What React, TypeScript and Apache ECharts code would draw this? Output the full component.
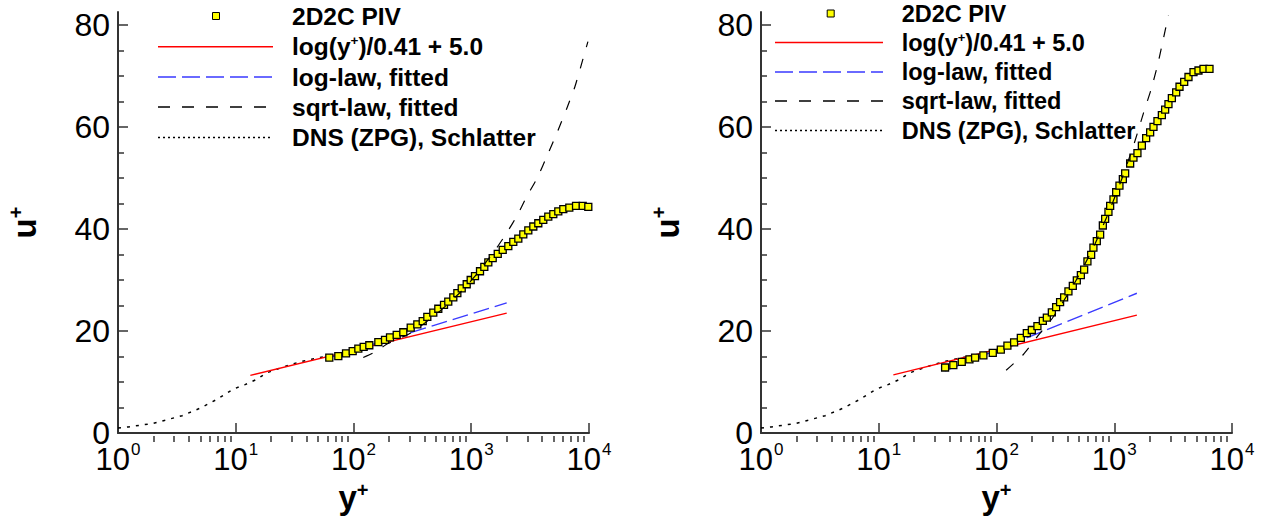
import React, { useEffect, useRef } from 'react';
import * as echarts from 'echarts';

// ---------- data ----------
const xMajorTicks = [1, 10, 100, 1000, 10000];
const xMinorTicks = [2, 3, 4, 5, 6, 7, 8, 9, 20, 30, 40, 50, 60, 70, 80, 90, 200, 300, 400, 500, 600, 700, 800, 900, 2000, 3000, 4000, 5000, 6000, 7000, 8000, 9000];
const yMajorTicks = [0, 20, 40, 60, 80];
const yMinorTicks = [5, 10, 15, 25, 30, 35, 45, 50, 55, 65, 70, 75];

// DNS (ZPG), Schlatter
const dnsYPlus = [1.0, 1.22, 1.98, 3.5, 5.0, 6.9, 9.5, 12, 15, 18.3, 22.3, 28, 35, 44, 60];
const dnsUPlus = [1.0, 1.2, 1.9, 3.4, 4.9, 6.6, 8.6, 9.5, 10.5, 11.8, 12.5, 13.3, 13.95, 14.45, 15.1];

// left panel
const pivLeftYPlus = [62.3, 74.3, 86.4, 98.4, 109.9, 122, 136.2, 162.5, 185.2, 204.2, 232.8, 264.9, 306.1, 348.3, 387, 423.5, 476, 525, 587, 638, 704, 762, 830, 915, 989, 1076, 1187, 1291, 1396, 1521, 1679, 1850, 2064, 2275, 2510, 2767, 3052, 3366, 3710, 4090, 4510, 4975, 5485, 6050, 6805, 7760, 8840, 9865];
const pivLeftUPlus = [14.77, 15.1, 15.6, 16.06, 16.56, 16.9, 17.21, 17.84, 18.28, 18.74, 19.24, 19.76, 20.66, 21.3, 21.93, 22.77, 23.6, 24.36, 25.13, 25.77, 26.61, 27.43, 28.34, 29.16, 29.99, 30.75, 31.71, 32.56, 33.44, 34.28, 35.11, 35.88, 36.64, 37.47, 38.12, 38.94, 39.71, 40.48, 41.11, 41.77, 42.4, 42.92, 43.42, 43.87, 44.18, 44.51, 44.51, 44.32];
const logLawLeftYPlus = [13.3, 2000];
const logLawLeftUPlus = [11.3, 23.5];
const logFitLeftYPlus = [59, 2000];
const logFitLeftUPlus = [14.6, 25.5];
const sqrtFitLeftYPlus = [121, 147, 198, 300, 500, 800, 1100, 1655, 2010, 2450, 2970, 3620, 4480, 5450, 6500, 7600, 8890, 9790];
const sqrtFitLeftUPlus = [14.8, 15.7, 17.6, 19.5, 23.2, 27.5, 31.0, 36.4, 39.3, 42.6, 46.4, 49.9, 54.7, 59.3, 63.7, 67.9, 73.3, 76.7];

// right panel
const pivRightYPlus = [36.6, 43.0, 50.7, 58.9, 65.8, 77.4, 93.0, 108.8, 123.8, 141.1, 160.9, 180.9, 199.5, 222.6, 247.4, 267.6, 295.1, 320.9, 346.8, 375.3, 408.3, 444.8, 481, 520.5, 555, 592, 636.5, 665.5, 711, 759, 800, 837, 893, 923, 985, 1038, 1107, 1183, 1238, 1365, 1456, 1574, 1716, 1866, 2018, 2154, 2328, 2537, 2706, 2887, 3085, 3357, 3583, 3926, 4270, 4710, 5192, 5727, 6440];
const pivRightUPlus = [12.85, 13.3, 13.95, 14.45, 14.77, 15.21, 15.73, 16.36, 17.13, 17.78, 18.67, 19.57, 20.2, 20.97, 22.0, 22.64, 23.65, 24.69, 25.65, 26.61, 27.76, 28.83, 29.93, 30.94, 32.04, 33.63, 34.92, 36.32, 37.6, 38.89, 40.67, 41.96, 43.36, 44.51, 45.79, 47.19, 48.48, 49.75, 50.9, 52.82, 53.97, 54.87, 56.34, 57.8, 58.9, 59.99, 61.14, 62.29, 63.37, 64.46, 65.61, 66.76, 67.86, 68.82, 69.77, 70.73, 71.04, 71.37, 71.37];
const logLawRightYPlus = [13.3, 1556];
const logLawRightUPlus = [11.4, 23.1];
const logFitRightYPlus = [36.6, 1556];
const logFitRightUPlus = [12.2, 27.4];
const sqrtFitRightYPlus = [120.7, 169, 227, 300, 450, 650, 900, 1150, 1456, 1771, 2047, 2328, 2588, 2887];
const sqrtFitRightUPlus = [12.3, 15.4, 19.2, 22.6, 29.0, 35.9, 43.3, 49.6, 56.3, 62.7, 67.2, 72.0, 76.8, 81.9];

const legendNames = ['2D2C PIV', 'log(y+)/0.41 + 5.0', 'log-law, fitted', 'sqrt-law, fitted', 'DNS (ZPG), Schlatter'];

// ---------- styling ----------
const FONT = "'Liberation Sans', Arial, Helvetica, sans-serif";
const AX = '#333';
const RED = '#ff0000';
const BLUE = '#3a3aff';
const BLACK = '#000';
const YELLOW = '#ffff00';

const pairs = (x: number[], y: number[]) => x.map((v, i) => [v, y[i]]);

const panels = [
  {
    grid: { left: 118, right: 682, top: 12, bottom: 77 },
    width: 471,
    height: 430,
    piv: pairs(pivLeftYPlus, pivLeftUPlus),
    law: pairs(logLawLeftYPlus, logLawLeftUPlus),
    fit: pairs(logFitLeftYPlus, logFitLeftUPlus),
    sqrt: pairs(sqrtFitLeftYPlus, sqrtFitLeftUPlus),
    legend: { markerX: 216, x1: 158, x2: 273, textX: 292, rows: [16, 46.7, 77, 107, 137.5], fontSize: 24.5 },
  },
  {
    grid: { left: 761, right: 39, top: 12, bottom: 77 },
    width: 471,
    height: 430,
    piv: pairs(pivRightYPlus, pivRightUPlus),
    law: pairs(logLawRightYPlus, logLawRightUPlus),
    fit: pairs(logFitRightYPlus, logFitRightUPlus),
    sqrt: pairs(sqrtFitRightYPlus, sqrtFitRightUPlus),
    legend: { markerX: 830.7, x1: 775, x2: 883, textX: 901.7, rows: [13.5, 42.5, 72, 101, 130.5], fontSize: 23.5 },
  },
];

export default function App() {
  const ref = useRef<HTMLDivElement>(null);
  useEffect(() => {
    const chart = echarts.init(ref.current!, null, { renderer: 'svg' });

    const xAxis: any[] = [];
    const yAxis: any[] = [];
    const series: any[] = [];
    const graphic: any[] = [];

    panels.forEach((p, g) => {
      // major x axis
      xAxis.push({
        type: 'log', logBase: 10, min: 1, max: 10000, gridIndex: g, position: 'bottom',
        axisLine: { show: true, onZero: false, lineStyle: { color: AX, width: 2 } },
        axisTick: { show: true, inside: true, length: 10, customValues: xMajorTicks, lineStyle: { color: AX, width: 1.5 } },
        splitLine: { show: false },
        axisLabel: {
          customValues: xMajorTicks,
          margin: 8,
          formatter: (v: number) => `{b|10}{s|${Math.round(Math.log10(v))}}`,
          rich: {
            b: { fontSize: 31, fontFamily: FONT, color: '#000', lineHeight: 36 },
            s: { fontSize: 17, fontFamily: FONT, color: '#000', lineHeight: 17, verticalAlign: 'top', padding: [0, 0, 0, 1] },
          },
        },
        name: '{b|y}{s|+}',
        nameLocation: 'middle',
        nameGap: 32,
        nameTextStyle: {
          rich: {
            b: { fontSize: 33, fontWeight: 'bold', fontFamily: FONT, color: '#000', lineHeight: 36 },
            s: { fontSize: 20, fontWeight: 'bold', fontFamily: FONT, color: '#000', lineHeight: 20, verticalAlign: 'top' },
          },
        },
      });
      // minor x ticks (placed onto the bottom line)
      xAxis.push({
        type: 'log', logBase: 10, min: 1, max: 10000, gridIndex: g, position: 'top', offset: -p.height,
        axisLine: { show: false },
        axisTick: { show: true, inside: false, length: 6, customValues: xMinorTicks, lineStyle: { color: AX, width: 1.5 } },
        axisLabel: { show: false },
        splitLine: { show: false },
      });
      // major y axis
      yAxis.push({
        type: 'value', min: 0, max: 82.5, gridIndex: g, position: 'left',
        axisLine: { show: true, onZero: false, lineStyle: { color: AX, width: 2 } },
        axisTick: { show: true, inside: true, length: 10, customValues: yMajorTicks, lineStyle: { color: AX, width: 1.5 } },
        splitLine: { show: false },
        axisLabel: { customValues: yMajorTicks, fontSize: 32, fontFamily: FONT, color: '#000', margin: 8 },
        name: '{b|u}{s|+}',
        nameLocation: 'middle',
        nameGap: 76,
        nameTextStyle: {
          rich: {
            b: { fontSize: 33, fontWeight: 'bold', fontFamily: FONT, color: '#000', lineHeight: 36 },
            s: { fontSize: 20, fontWeight: 'bold', fontFamily: FONT, color: '#000', lineHeight: 20, verticalAlign: 'top' },
          },
        },
      });
      // minor y ticks (placed onto the left line)
      yAxis.push({
        type: 'value', min: 0, max: 82.5, gridIndex: g, position: 'right', offset: -p.width,
        axisLine: { show: false },
        axisTick: { show: true, inside: false, length: 6, customValues: yMinorTicks, lineStyle: { color: AX, width: 1.5 } },
        axisLabel: { show: false },
        splitLine: { show: false },
      });

      const xi = g * 2;
      const yi = g * 2;
      series.push(
        {
          name: legendNames[4], type: 'line', xAxisIndex: xi, yAxisIndex: yi, data: pairs(dnsYPlus, dnsUPlus),
          symbol: 'none', z: 2, lineStyle: { color: BLACK, width: 1.5, type: [3, 6] },
        },
        {
          name: legendNames[1], type: 'line', xAxisIndex: xi, yAxisIndex: yi, data: p.law,
          symbol: 'none', z: 3, lineStyle: { color: RED, width: 1.4, type: 'solid' },
        },
        {
          name: legendNames[2], type: 'line', xAxisIndex: xi, yAxisIndex: yi, data: p.fit,
          symbol: 'none', z: 3, lineStyle: { color: BLUE, width: 1.4, type: [16, 6] },
        },
        {
          name: legendNames[0], type: 'scatter', xAxisIndex: xi, yAxisIndex: yi, data: p.piv,
          symbol: 'rect', symbolSize: 7, z: 4,
          itemStyle: { color: YELLOW, borderColor: BLACK, borderWidth: 1.3, opacity: 1 },
        },
        {
          name: legendNames[3], type: 'line', xAxisIndex: xi, yAxisIndex: yi, data: p.sqrt,
          symbol: 'none', z: 5, smooth: 0.2, lineStyle: { color: BLACK, width: 1.2, type: [10, 12] },
        },
      );

      // legend drawn as graphic
      const L = p.legend;
      const textStyle = (t: string, y: number, rich = false) => ({
        type: 'text', x: L.textX, y,
        style: {
          text: t, fill: '#000', fontSize: L.fontSize, fontWeight: 'bold', fontFamily: FONT,
          verticalAlign: 'middle', align: 'left',
          rich: rich ? { n: { fontSize: L.fontSize, fontWeight: 'bold', fontFamily: FONT, fill: '#000' }, s: { fontSize: L.fontSize * 0.55, fontWeight: 'bold', fontFamily: FONT, fill: '#000', verticalAlign: 'top' } } : undefined,
        },
      });
      graphic.push(
        { type: 'rect', shape: { x: L.markerX - 3.5, y: L.rows[0] - 3.5, width: 7, height: 7 }, style: { fill: YELLOW, stroke: BLACK, lineWidth: 1 } },
        textStyle(legendNames[0], L.rows[0]),
        { type: 'line', shape: { x1: L.x1, y1: L.rows[1], x2: L.x2, y2: L.rows[1] }, style: { stroke: RED, lineWidth: 1.5 } },
        textStyle('{n|log(y}{s|+}{n|)/0.41 + 5.0}', L.rows[1], true),
        { type: 'line', shape: { x1: L.x1, y1: L.rows[2], x2: L.x2, y2: L.rows[2] }, style: { stroke: BLUE, lineWidth: 1.5, lineDash: [18, 6] } },
        textStyle(legendNames[2], L.rows[2]),
        { type: 'line', shape: { x1: L.x1, y1: L.rows[3], x2: L.x2, y2: L.rows[3] }, style: { stroke: BLACK, lineWidth: 1.3, lineDash: [12, 12] } },
        textStyle(legendNames[3], L.rows[3]),
        { type: 'line', shape: { x1: L.x1, y1: L.rows[4], x2: L.x2, y2: L.rows[4] }, style: { stroke: BLACK, lineWidth: 1.3, lineDash: [2, 3] } },
        textStyle(legendNames[4], L.rows[4]),
      );
    });

    chart.setOption({
      animation: false,
      backgroundColor: '#fff',
      grid: panels.map((p) => ({ ...p.grid, containLabel: false })),
      xAxis,
      yAxis,
      series,
      graphic,
    });
    return () => chart.dispose();
  }, []);
  return <div ref={ref} style={{ position: 'fixed', left: 0, top: 0, width: 1271, height: 519, background: '#fff' }} />;
}
